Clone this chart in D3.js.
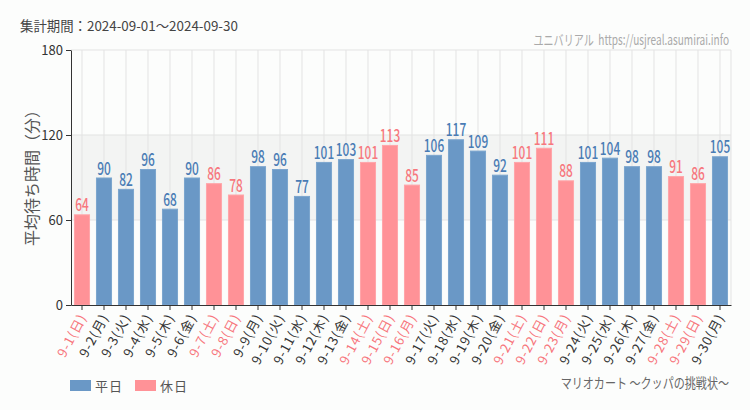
<!DOCTYPE html>
<html><head><meta charset="utf-8">
<script src="https://cdn.jsdelivr.net/npm/d3@7"></script>
<style>
body{margin:0;background:#fcfdfc;}
svg{display:block;}
text{font-family:"Noto Sans CJK JP","Noto Sans",sans-serif;}
</style></head><body>
<svg id="c" width="750" height="410"></svg>
<script>
const days = ["9-1","9-2","9-3","9-4","9-5","9-6","9-7","9-8","9-9","9-10","9-11","9-12","9-13","9-14","9-15","9-16","9-17","9-18","9-19","9-20","9-21","9-22","9-23","9-24","9-25","9-26","9-27","9-28","9-29","9-30"];
const weekdays = ["日","月","火","水","木","金","土","日","月","火","水","木","金","土","日","月","火","水","木","金","土","日","月","火","水","木","金","土","日","月"];
const values = [64,90,82,96,68,90,86,78,98,96,77,101,103,101,113,85,106,117,109,92,101,111,88,101,104,98,98,91,86,105];
const holiday = [1,0,0,0,0,0,1,1,0,0,0,0,0,1,1,1,0,0,0,0,1,1,1,0,0,0,0,1,1,0];
const yTicks = [0,60,120,180];
const legendItems = ["平日","休日"];

const svg = d3.select("#c");
const L=71, R=731, T=50, B=305;
const x = d3.scaleBand().domain(days).range([L,R]).paddingInner(0.27).paddingOuter(0.135);
const y = d3.scaleLinear().domain([0,180]).range([B,T]);
const blue="#6a98c6", red="#ff9297", blueT="#4a7cb5", redT="#f7787e";
const cx = d => x(d)+x.bandwidth()/2;

// band
svg.append("rect").attr("x",L).attr("y",y(120)).attr("width",R-L).attr("height",y(60)-y(120)).attr("fill","#f3f4f3");
// grid
svg.append("g").selectAll("line").data(yTicks.slice(1)).join("line")
 .attr("x1",L).attr("x2",R).attr("y1",d=>y(d)).attr("y2",d=>y(d)).attr("stroke","#e3e3e3");
svg.append("g").selectAll("line").data(days).join("line")
 .attr("x1",cx).attr("x2",cx).attr("y1",T).attr("y2",B).attr("stroke","#e3e3e3");
svg.append("line").attr("x1",R).attr("x2",R).attr("y1",T).attr("y2",B).attr("stroke","#e3e3e3");

// bars
svg.append("g").selectAll("rect").data(values).join("rect")
 .attr("x",(d,i)=>x(days[i])+0.5).attr("width",x.bandwidth()-1)
 .attr("y",d=>y(d)+0.5).attr("height",d=>B-y(d)-0.5)
 .attr("fill",(d,i)=>holiday[i]?red:blue)
 .attr("stroke",(d,i)=>holiday[i]?"#ffa5a9":"#7ba5ce").attr("stroke-width",1);
svg.append("g").selectAll("text").data(values).join("text")
 .attr("transform",(d,i)=>`translate(${cx(days[i])},${y(d)-3}) scale(0.7,1)`)
 .attr("text-anchor","middle").attr("font-size",17).attr("font-weight",500)
 .attr("fill",(d,i)=>holiday[i]?redT:blueT).text(d=>d);

// y axis
const ya = svg.append("g").attr("transform",`translate(${L},0)`)
 .call(d3.axisLeft(y).tickValues(yTicks).tickSize(5).tickSizeOuter(0));
ya.select(".domain").attr("stroke","#333");
ya.selectAll(".tick line").attr("stroke","#333");
ya.selectAll("text").attr("font-size",13).attr("fill","#333").attr("font-family","Noto Sans, sans-serif");

// x axis
const xa = svg.append("g").attr("transform",`translate(0,${B})`)
 .call(d3.axisBottom(x).tickSize(5).tickSizeOuter(0).tickFormat(()=>""));
xa.select(".domain").attr("stroke","#333");
xa.selectAll(".tick line").attr("stroke","#333");
svg.append("g").selectAll("text").data(days).join("text")
 .attr("transform",d=>`translate(${cx(d)+5},${B+12}) rotate(-62)`)
 .attr("text-anchor","end").attr("font-size",13).attr("letter-spacing",1)
 .attr("fill",(d,i)=>holiday[i]?"#f7767c":"#333")
 .text((d,i)=>`${d}(${weekdays[i]})`);

// title texts
svg.append("text").attr("x",20).attr("y",31).attr("font-size",13.4).attr("fill","#444").text("集計期間：2024-09-01～2024-09-30");
svg.append("text").attr("transform","translate(729,45) scale(0.72,1)").attr("text-anchor","end").attr("font-size",14).attr("fill","#aaa")
 .attr("xml:space","preserve").text("ユニバリアル  https://usjreal.asumirai.info");
svg.append("text").attr("transform",`translate(38,174) rotate(-90)`).attr("text-anchor","middle").attr("font-size",16).attr("fill","#555").text("平均待ち時間（分）");

// legend
const lg = svg.append("g").selectAll("g").data(legendItems).join("g")
 .attr("transform",(d,i)=>`translate(${70+i*65},380)`);
lg.append("rect").attr("width",21).attr("height",11).attr("fill",(d,i)=>i?red:blue);
lg.append("text").attr("x",25).attr("y",11).attr("font-size",13).attr("letter-spacing",1).attr("fill","#555").text(d=>d);

svg.append("text").attr("transform","translate(729,388) scale(0.79,1)").attr("text-anchor","end").attr("font-size",14).attr("fill","#666").text("マリオカート ～クッパの挑戦状～");
</script></body></html>
